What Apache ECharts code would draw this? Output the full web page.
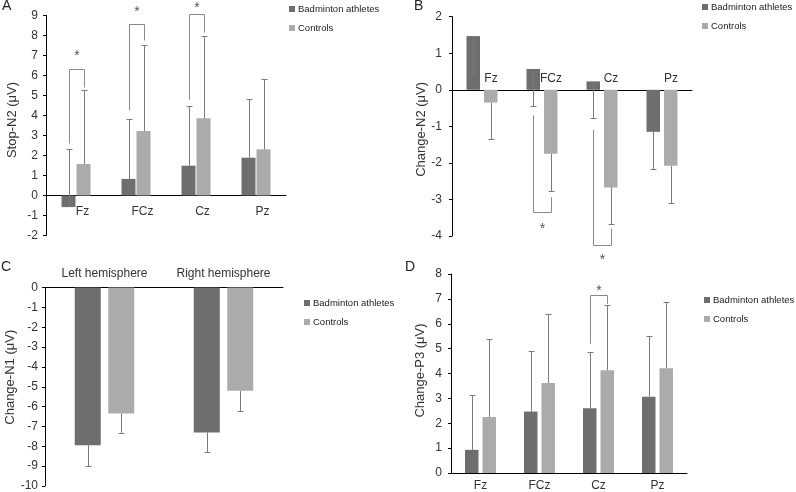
<!DOCTYPE html>
<html><head><meta charset="utf-8">
<script src="https://cdn.jsdelivr.net/npm/echarts@6/dist/echarts.min.js"></script>
<style>html,body{margin:0;padding:0;background:#fff}#c{width:796px;height:492px}</style>
</head><body><div id="c"></div>
<script>
// ---------------- DATA ----------------
const groupNames = ['Badminton athletes', 'Controls'];
const panelLetters = ['A', 'B', 'C', 'D'];

// A: Stop-N2
const catsA = ['Fz', 'FCz', 'Cz', 'Pz'];
const athA = [-0.58, 0.83, 1.49, 1.89];
const conA = [1.58, 3.23, 3.86, 2.31];
const athErrEndA = [2.33, 3.83, 4.49, 4.84];
const conErrEndA = [5.28, 7.53, 7.99, 5.81];
// [category, left start, bracket level, right start, star]
const sigA = [[0, 2.6, 6.3, 5.4, 7.1], [1, 4.25, 8.6, 7.75, 9.3], [2, 4.8, 9.05, 8.15, 9.5]];

// B: Change-N2
const catsB = ['Fz', 'FCz', 'Cz', 'Pz'];
const athB = [1.47, 0.57, 0.23, -1.15];
const conB = [-0.35, -1.75, -2.67, -2.08];
const athErrEndB = [0.47, -0.43, -0.77, -2.16];
const conErrEndB = [-1.35, -2.77, -3.67, -3.09];
const sigB = [[1, -0.7, -3.35, -2.94, -3.72], [2, -1.1, -4.24, -3.8, -4.57]];

// C: Change-N1
const catsC = ['Left hemisphere', 'Right hemisphere'];
const athC = [-7.95, -7.3];
const conC = [-6.35, -5.2];
const athErrEndC = [-8.97, -8.3];
const conErrEndC = [-7.35, -6.22];
const sigC = [];

// D: Change-P3
const catsD = ['Fz', 'FCz', 'Cz', 'Pz'];
const athD = [0.93, 2.47, 2.6, 3.07];
const conD = [2.25, 3.62, 4.13, 4.21];
const athErrEndD = [3.13, 4.92, 4.87, 5.5];
const conErrEndD = [5.38, 6.4, 6.75, 6.88];
const sigD = [[2, 5.19, 7.17, 6.8, 7.43]];

// ---------------- LAYOUT / STYLE ----------------
const DARK = '#6e6e6e', LIGHT = '#ababab', ERR = '#7b7b7b', BRK = '#8a8a8a', TXT = '#333';
const FONT = '"Liberation Sans", Arial, sans-serif';

const panels = [
  {cats: catsA, ath: athA, con: conA, athE: athErrEndA, conE: conErrEndA, sig: sigA,
   min: -2, max: 9, yName: 'Stop-N2 (μV)',
   grid: {left: 46, top: 15.5, width: 240, height: 220}, barW: 14, gapPx: 1, yLabMargin: 8,
   xPos: 'bottom', labPad: [0, 0, 0, 13], labMargin: 10, nameGap: 27, namePad: [0, 0, 0, 11],
   legend: {left: 289, top: 3}, letter: {left: 2, top: -1}},
  {cats: catsB, ath: athB, con: conB, athE: athErrEndB, conE: conErrEndB, sig: sigB,
   min: -4, max: 2, yName: 'Change-N2 (μV)',
   grid: {left: 452, top: 16.7, width: 240, height: 219.3}, barW: 13.5, gapPx: 4, yLabMargin: 10,
   xPos: 'top', labPad: [0, 0, 0, 18], labMargin: 5, nameGap: 24, namePad: [0, 6, 0, 0],
   legend: {left: 702, top: 1}, letter: {left: 414, top: -1}},
  {cats: catsC, ath: athC, con: conC, athE: athErrEndC, conE: conErrEndC, sig: sigC,
   min: -10, max: 0, yName: 'Change-N1 (μV)',
   grid: {left: 45, top: 287.5, width: 238, height: 202}, barW: 26, gapPx: 7.5, yLabMargin: 7,
   xPos: 'top', labPad: 0, labMargin: 8, nameGap: 28, namePad: [0, 0, 0, 19],
   legend: {left: 304, top: 297}, letter: {left: 1, top: 260}},
  {cats: catsD, ath: athD, con: conD, athE: athErrEndD, conE: conErrEndD, sig: sigD,
   min: 0, max: 8, yName: 'Change-P3 (μV)',
   grid: {left: 451, top: 274, width: 236, height: 202}, barW: 13.5, gapPx: 4, yLabMargin: 9,
   xPos: 'bottom', labPad: 0, labMargin: 7, nameGap: 24, namePad: [0, 0, 0, 6],
   legend: {left: 704, top: 294}, letter: {left: 405, top: 260}}
];

const grids = [], xAxes = [], yAxes = [], series = [], legends = [], titles = [];

panels.forEach((p, i) => {
  grids.push(Object.assign({containLabel: false}, p.grid));
  // place the category axis at value 0 (shift from grid edge by the pixel distance to zero)
  const frac = p.xPos === 'bottom' ? (0 - p.min) / (p.max - p.min) : (p.max - 0) / (p.max - p.min);
  const zeroOffset = -frac * p.grid.height;
  xAxes.push({
    type: 'category', gridIndex: i, data: p.cats, position: p.xPos, offset: zeroOffset,
    axisLine: {onZero: false, lineStyle: {color: '#000', width: 1}},
    axisTick: {show: false},
    axisLabel: {fontSize: 12, color: TXT, margin: p.labMargin, padding: p.labPad, fontFamily: FONT, interval: 0},
    splitLine: {show: false}
  });
  yAxes.push({
    type: 'value', gridIndex: i, min: p.min, max: p.max, interval: 1,
    name: p.yName, nameLocation: 'middle', nameRotate: 90, nameGap: p.nameGap,
    nameTextStyle: {fontSize: 13, color: TXT, fontFamily: FONT, padding: p.namePad},
    axisLine: {show: true, onZero: false, lineStyle: {color: '#000', width: 1}},
    axisTick: {show: true, length: 3, lineStyle: {color: '#000'}},
    axisLabel: {fontSize: 12, color: TXT, margin: p.yLabMargin, fontFamily: FONT},
    splitLine: {show: false}
  });
  const gapPct = (p.gapPx / p.barW * 100).toFixed(1) + '%';
  const off = (p.barW + p.gapPx) / 2;
  series.push({type: 'bar', name: groupNames[0], xAxisIndex: i, yAxisIndex: i, data: p.ath,
    barWidth: p.barW, barGap: gapPct, itemStyle: {color: DARK}, z: 2});
  series.push({type: 'bar', name: groupNames[1], xAxisIndex: i, yAxisIndex: i, data: p.con,
    barWidth: p.barW, barGap: gapPct, itemStyle: {color: LIGHT}, z: 2});
  const errData = [];
  p.cats.forEach((c, k) => {
    errData.push([k, p.ath[k], p.athE[k], -1]);
    errData.push([k, p.con[k], p.conE[k], 1]);
  });
  series.push({
    type: 'custom', name: 'err' + i, xAxisIndex: i, yAxisIndex: i, data: errData, z: 4, clip: false,
    encode: {x: 0, y: [1, 2]}, silent: true,
    renderItem: function (params, api) {
      const c = api.value(0), s = api.value(3);
      const p0 = api.coord([c, api.value(1)]), p1 = api.coord([c, api.value(2)]);
      const x = Math.round(p0[0] + s * off) + 0.5;
      const ye = Math.round(p1[1]) + 0.5;
      return {type: 'group', children: [
        {type: 'line', shape: {x1: x, y1: p0[1], x2: x, y2: ye}, style: {stroke: ERR, lineWidth: 1}},
        {type: 'line', shape: {x1: x - 3, y1: ye, x2: x + 3, y2: ye}, style: {stroke: ERR, lineWidth: 1}}
      ]};
    }
  });
  if (p.sig.length) {
    series.push({
      type: 'custom', name: 'sig' + i, xAxisIndex: i, yAxisIndex: i, data: p.sig, z: 5, clip: false,
      encode: {x: 0, y: [1, 2, 3, 4]}, silent: true,
      renderItem: function (params, api) {
        const c = api.value(0);
        const pl = api.coord([c, api.value(1)]), ph = api.coord([c, api.value(2)]);
        const pr = api.coord([c, api.value(3)]), ps = api.coord([c, api.value(4)]);
        const xl = Math.round(pl[0] - off) + 0.5, xr = Math.round(pl[0] + off) + 0.5;
        const yh = Math.round(ph[1]) + 0.5;
        return {type: 'group', children: [
          {type: 'polyline', shape: {points: [[xl, pl[1]], [xl, yh], [xr, yh], [xr, pr[1]]]},
           style: {stroke: BRK, fill: null, lineWidth: 1}},
          {type: 'text', style: {text: '*', x: (xl + xr) / 2, y: ps[1] + 3, align: 'center', verticalAlign: 'middle',
            fontSize: 14, fontFamily: FONT, fill: '#555'}}
        ]};
      }
    });
  }
  legends.push({
    data: groupNames, orient: 'vertical', left: p.legend.left, top: p.legend.top, padding: 0,
    icon: 'rect', itemWidth: 6, itemHeight: 6, itemGap: 7, selectedMode: false,
    textStyle: {fontSize: 9.5, lineHeight: 12, color: '#222', fontFamily: FONT, padding: [0, 0, 0, -2]}
  });
  titles.push({text: panelLetters[i], left: p.letter.left, top: p.letter.top, padding: 0,
    textStyle: {fontSize: 14, fontWeight: 'normal', color: '#222', fontFamily: FONT}});
});

const chart = echarts.init(document.getElementById('c'), null, {width: 796, height: 492});
chart.setOption({
  animation: false,
  backgroundColor: '#fff',
  textStyle: {fontFamily: FONT},
  title: titles,
  legend: legends,
  grid: grids,
  xAxis: xAxes,
  yAxis: yAxes,
  series: series
});
</script>
</body></html>
